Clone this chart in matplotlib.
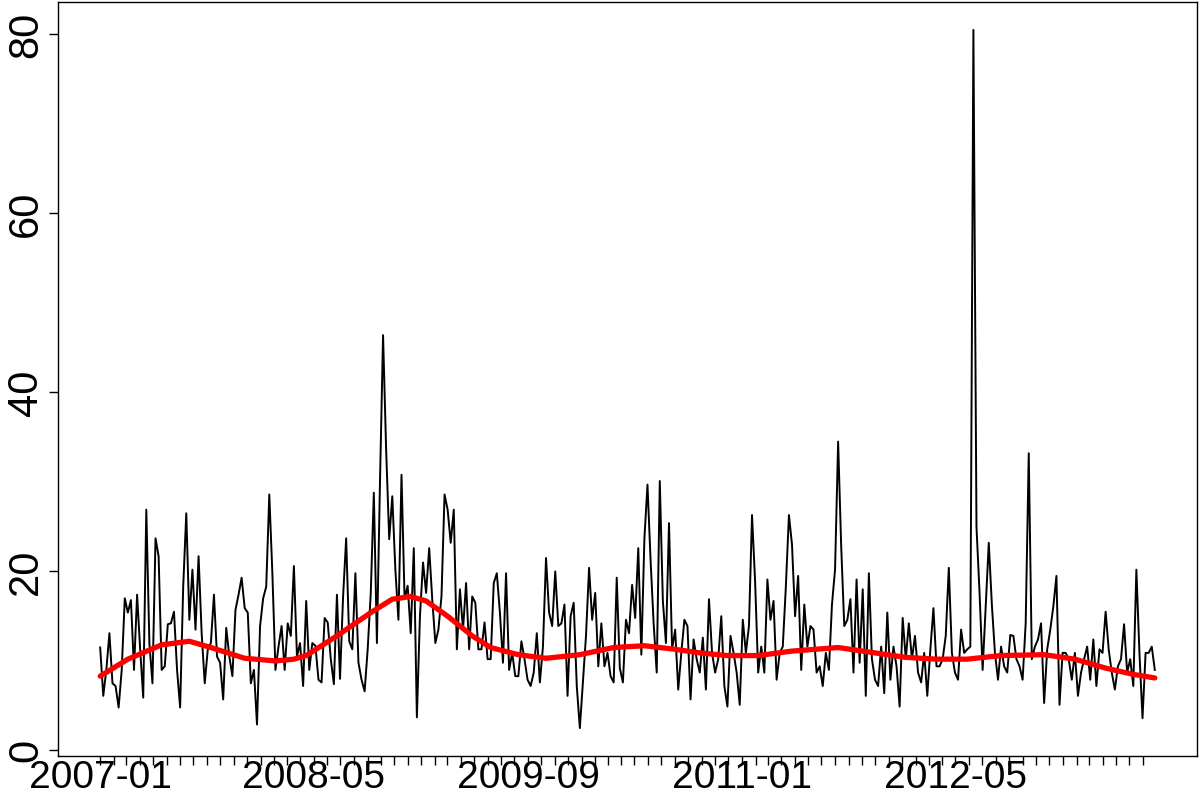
import numpy as np
import matplotlib
matplotlib.use('Agg')
import matplotlib.pyplot as plt
import matplotlib.dates as mdates

plt.rcParams['font.family'] = ['Liberation Sans', 'DejaVu Sans']

# weekly observations starting 2007-01-01
start_date = '2007-01-01'
values = [
    11.5, 6.1, 9.0, 13.1, 7.5, 7.2, 4.8, 9.0, 17.0, 15.4,
    16.8, 9.0, 17.4, 11.3, 5.9, 26.9, 12.0, 7.5, 23.7, 21.7,
    9.0, 9.4, 14.1, 14.2, 15.5, 9.0, 4.8, 18.3, 26.5, 14.6,
    20.2, 13.5, 21.7, 13.1, 7.5, 11.3, 12.0, 17.4, 10.5, 9.8,
    5.7, 13.7, 10.5, 8.3, 15.7, 17.4, 19.3, 15.9, 15.4, 7.5,
    9.0, 2.9, 13.9, 17.0, 18.3, 28.6, 19.8, 9.0, 11.6, 13.9,
    9.0, 14.2, 12.8, 20.6, 10.5, 12.0, 7.2, 16.7, 9.0,
    # 2008-05 ..
    12.0, 11.7, 7.9, 7.6, 14.8, 14.3, 10.2, 7.4, 17.4, 8.0,
    17.2, 23.7, 12.2, 11.3, 19.8, 9.8, 7.9, 6.6, 11.3, 17.6,
    28.8, 12.0, 30.0, 46.4, 33.6, 23.6, 28.4, 20.2, 14.6, 30.8,
    16.9, 18.4, 13.1, 22.6, 3.7, 15.0, 21.0, 17.6, 22.6, 16.9,
    12.0, 13.5, 17.2, 28.6, 26.9, 23.2, 26.9, 11.3, 18.0, 13.5,
    18.7, 11.3, 17.2, 16.5, 11.3, 11.3, 14.3, 10.2, 10.2, 18.7,
    19.8, 15.4, 9.8, 19.8, 9.0, 10.9, 8.3, 8.3,
    # 2009-09 ..
    12.2, 10.2, 7.9, 7.2, 8.7, 13.1, 7.6, 11.6, 21.5, 15.4,
    13.9, 20.0, 13.9, 14.2, 16.3, 6.1, 15.0, 16.5, 7.2, 2.5,
    7.6, 12.8, 20.4, 14.6, 17.6, 9.4, 14.2, 9.4, 10.9, 8.3,
    7.6, 19.3, 9.2, 7.6, 14.6, 13.1, 18.5, 14.8, 22.6, 10.7,
    23.7, 29.7, 21.3, 14.2, 8.7, 30.1, 16.7, 12.0, 25.4, 11.3,
    13.5, 6.8, 10.9, 14.6, 13.9, 5.7, 12.4, 10.2, 8.7, 12.6,
    6.8, 16.9, 10.9, 8.7, 10.2, 15.0, 7.2, 4.9,
    # 2011-01 ..
    12.8, 10.9, 8.7, 5.1, 14.6, 10.9, 13.9, 26.3, 18.9, 8.7,
    11.6, 8.7, 19.1, 14.6, 16.7, 7.9, 10.9, 11.6, 18.3, 26.3,
    23.0, 15.0, 19.5, 9.0, 16.3, 11.6, 13.9, 13.5, 8.7, 9.4,
    7.2, 10.9, 9.0, 16.3, 20.2, 34.5, 22.8, 13.9, 14.6, 16.9,
    8.7, 19.1, 9.8, 18.0, 6.1, 19.8, 10.2, 7.9, 7.2, 11.6,
    6.4, 15.4, 7.9, 11.6, 9.4, 4.9, 14.8, 10.2, 14.2, 10.2,
    12.8, 8.7, 7.6, 10.9, 6.1, 11.3, 15.9, 9.4,
    # 2012-05 ..
    9.4, 10.2, 12.8, 20.4, 10.9, 8.7, 7.9, 13.5, 10.9, 11.3,
    11.6, 80.5, 25.0, 17.6, 9.0, 16.1, 23.2, 16.3, 10.9, 7.9,
    11.6, 9.4, 8.7, 12.9, 12.8, 10.2, 9.4, 7.9, 14.2, 33.2,
    10.2, 11.6, 12.4, 14.2, 5.3, 11.3, 13.5, 16.1, 19.5, 5.1,
    10.9, 10.9, 10.2, 7.9, 10.9, 6.1, 8.7, 10.2, 11.6, 7.9,
    12.4, 7.2, 11.3, 10.9, 15.5, 11.3, 8.7, 6.8, 9.4, 10.2,
    14.1, 8.7, 10.2, 7.2, 20.2, 10.9, 3.6, 10.9, 10.9, 11.6,
    9.0,
]

# smooth trend (red), read at week positions
trend_week = [0, 9, 20, 29, 36, 47, 57, 63, 67, 77, 88, 95, 101, 106, 113,
              121, 127, 136, 145, 156, 167, 177, 187, 195, 204, 214, 225,
              240, 252, 262, 272, 282, 293, 307, 317, 327, 336, 343]
trend_val = [8.3, 10.2, 11.8, 12.2, 11.5, 10.3, 10.0, 10.2, 10.6, 12.8, 15.4,
             16.9, 17.2, 16.7, 15.0, 12.8, 11.5, 10.7, 10.3, 10.7, 11.5, 11.7,
             11.3, 10.9, 10.6, 10.6, 11.1, 11.5, 10.9, 10.4, 10.2, 10.2, 10.6,
             10.7, 10.2, 9.2, 8.5, 8.1]

# axis ticks: every month, label every 16th
tick_start = '2007-01'
tick_end = '2013-08'
label_every = 16
y_ticks = [0, 20, 40, 60, 80]

values = np.array(values)
dates = np.datetime64(start_date) + np.arange(len(values)) * np.timedelta64(7, 'D')
x = mdates.date2num(dates)

fig = plt.figure(figsize=(12, 8), dpi=100)
ax = fig.add_axes([58/1200, 44/800, 1139/1200, 754/800])

ax.plot(x, values, color='black', lw=1.4)
ax.plot(x[trend_week], trend_val, color='red', lw=3.8, solid_capstyle='round')

# R-like 4% padding on both axes
xspan = x[-1] - x[0]
ax.set_xlim(x[0] - 0.04*xspan, x[-1] + 0.04*xspan)
yspan = values.max() - values.min()
ax.set_ylim(values.min() - 0.04*yspan, values.max() + 0.04*yspan)

months = np.arange(np.datetime64(tick_start), np.datetime64(tick_end), dtype='datetime64[M]')
ax.set_xticks(mdates.date2num(months.astype('datetime64[D]')))
ax.set_xticklabels([str(m) if k % label_every == 0 else '' for k, m in enumerate(months)])

ax.set_yticks(y_ticks)
ax.set_yticklabels([str(v) for v in y_ticks], rotation=90, va='center')

ax.tick_params(axis='both', length=6.5, width=1, labelsize=28, color='black')
ax.tick_params(axis='x', pad=-3.5)
ax.tick_params(axis='y', labelsize=30, pad=2)
for s in ax.spines.values():
    s.set_linewidth(1)

fig.savefig('out.png', dpi=100)
